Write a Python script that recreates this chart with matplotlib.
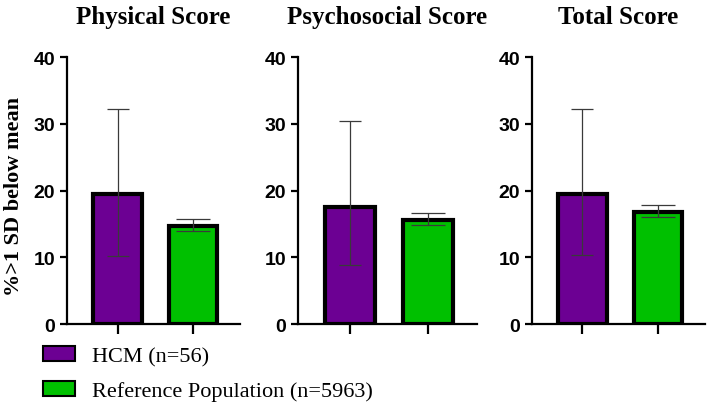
import matplotlib.pyplot as plt
from matplotlib.patches import Patch

panels = ["Physical Score", "Psychosocial Score", "Total Score"]
groups = ["HCM (n=56)", "Reference Population (n=5963)"]
colors = ["#6c0093", "#00c000"]

hcm_mean = [19.5, 17.6, 19.5]
hcm_low = [10.2, 8.8, 10.3]
hcm_high = [32.2, 30.4, 32.2]
ref_mean = [14.7, 15.6, 16.8]
ref_low = [14.0, 14.9, 16.0]
ref_high = [15.7, 16.7, 17.8]

serif = "Liberation Serif"
sans = "Liberation Sans"

fig = plt.figure(figsize=(7.09, 4.06), dpi=100)

# axes boxes in figure fractions (left, width)
boxes = [(0.0945, 0.244), (0.420, 0.2525), (0.750, 0.244)]
bottom, height = 0.1995, 0.657

for i, (left, width) in enumerate(boxes):
    ax = fig.add_axes([left, bottom, width, height])
    means = [hcm_mean[i], ref_mean[i]]
    lows = [hcm_low[i], ref_low[i]]
    highs = [hcm_high[i], ref_high[i]]
    ax.bar([0, 1], means, width=0.64, color=colors, edgecolor="black",
           linewidth=3, zorder=2)
    for x, m, lo, hi, cs in zip([0, 1], means, lows, highs, [8, 12]):
        ax.errorbar(x, m, yerr=[[m - lo], [hi - m]], fmt="none",
                    ecolor="#3a3a3a", elinewidth=0.9, capsize=cs,
                    capthick=0.9, zorder=3)
    ax.set_xlim(-0.67, 1.62)
    ax.set_ylim(0, 40)
    ax.set_yticks([0, 10, 20, 30, 40])
    ax.set_xticks([0, 1])
    ax.set_xticklabels([])
    for s in ["top", "right"]:
        ax.spines[s].set_visible(False)
    for s in ["left", "bottom"]:
        ax.spines[s].set_linewidth(1.6)
    ax.tick_params(axis="both", width=1.6, length=5, direction="out")
    ax.tick_params(axis="x", length=7)
    for lab in ax.get_yticklabels():
        lab.set_fontfamily(sans)
        lab.set_fontweight("bold")
        lab.set_fontsize(14)
    ax.set_title(panels[i], fontfamily=serif, fontweight="bold",
                 fontsize=18, pad=25)

fig.text(0.02, 0.515, "%>1 SD below mean", rotation=90, ha="center",
         va="center", fontfamily=serif, fontweight="bold", fontsize=16)

handles = [Patch(facecolor=c, edgecolor="black", linewidth=1.5) for c in colors]
fig.legend(handles, groups, loc="lower left", bbox_to_anchor=(0.033, -0.04),
           frameon=False, prop={"family": serif, "size": 16},
           handlelength=1.4, handleheight=0.65, handletextpad=0.8,
           labelspacing=0.65, borderpad=0.4)

fig.savefig("out.png", dpi=100)
